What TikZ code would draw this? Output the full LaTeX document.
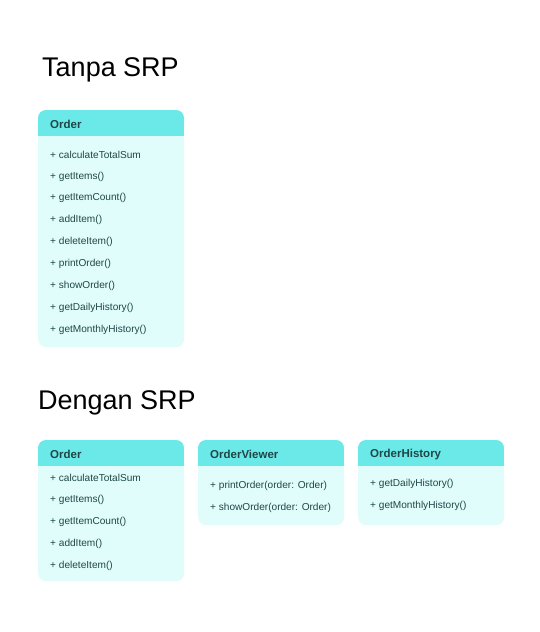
\documentclass[tikz,border=0pt]{standalone}
\usepackage{fontspec}
\setmainfont{Liberation Sans}
\definecolor{hdr}{HTML}{6BE9E9}
\definecolor{bdy}{HTML}{E0FDFB}
\definecolor{txt}{HTML}{1F4747}
\begin{document}
\begin{tikzpicture}[x=1pt,y=-1pt,
  cls/.style={fill=bdy,rounded corners=8pt,inner sep=0pt,anchor=north west},
  title/.style={anchor=west,inner sep=0pt,font=\fontsize{27}{30}\selectfont,text=black},
  hname/.style={anchor=west,inner sep=0pt,font=\fontsize{11.5}{13}\selectfont\bfseries,text=txt},
  item/.style={anchor=west,inner sep=0pt,font=\fontsize{10.1}{12}\selectfont,text=txt}]
\useasboundingbox[fill=white] (0,0) rectangle (540,632);
\node[title] (t1) at (42,69.5) {Tanpa SRP};
\node[title] (t2) at (38,402.5) {Dengan SRP};
% box 1
\node[cls,minimum width=146pt,minimum height=237pt] (b1) at (38,110) {};
\begin{scope}
\clip[rounded corners=8pt] (38,110) rectangle (184,347);
\fill[hdr] (38,110) rectangle (184,136);
\end{scope}
\node[hname] (h1) at (50,124.5) {Order};
\foreach \t [count=\i] in {calculateTotalSum,getItems(),getItemCount(),addItem(),deleteItem(),printOrder(),showOrder(),getDailyHistory(),getMonthlyHistory()}
  \node[item] (a\i) at (50,{154.5+(\i-1)*21.9}) {+ \t};
% box 2
\node[cls,minimum width=146pt,minimum height=141pt] (b2) at (38,440) {};
\begin{scope}
\clip[rounded corners=8pt] (38,440) rectangle (184,581);
\fill[hdr] (38,440) rectangle (184,466);
\end{scope}
\node[hname] (h2) at (50,454.5) {Order};
\foreach \t [count=\i] in {calculateTotalSum,getItems(),getItemCount(),addItem(),deleteItem()}
  \node[item] (c\i) at (50,{477.5+(\i-1)*22}) {+ \t};
% box 3
\node[cls,minimum width=146pt,minimum height=85pt] (b3) at (198,440) {};
\begin{scope}
\clip[rounded corners=8pt] (198,440) rectangle (344,525);
\fill[hdr] (198,440) rectangle (344,466);
\end{scope}
\node[hname] (h3) at (210,454.5) {OrderViewer};
\node[item] (d1) at (210,485.5) {+ printOrder(order: Order)};
\node[item] (d2) at (210,507.5) {+ showOrder(order: Order)};
% box 4
\node[cls,minimum width=146pt,minimum height=85pt] (b4) at (358,440) {};
\begin{scope}
\clip[rounded corners=8pt] (358,440) rectangle (504,525);
\fill[hdr] (358,440) rectangle (504,466);
\end{scope}
\node[hname] (h4) at (370,454.5) {OrderHistory};
\node[item] (e1) at (370,483.5) {+ getDailyHistory()};
\node[item] (e2) at (370,505.5) {+ getMonthlyHistory()};
\end{tikzpicture}
\end{document}
